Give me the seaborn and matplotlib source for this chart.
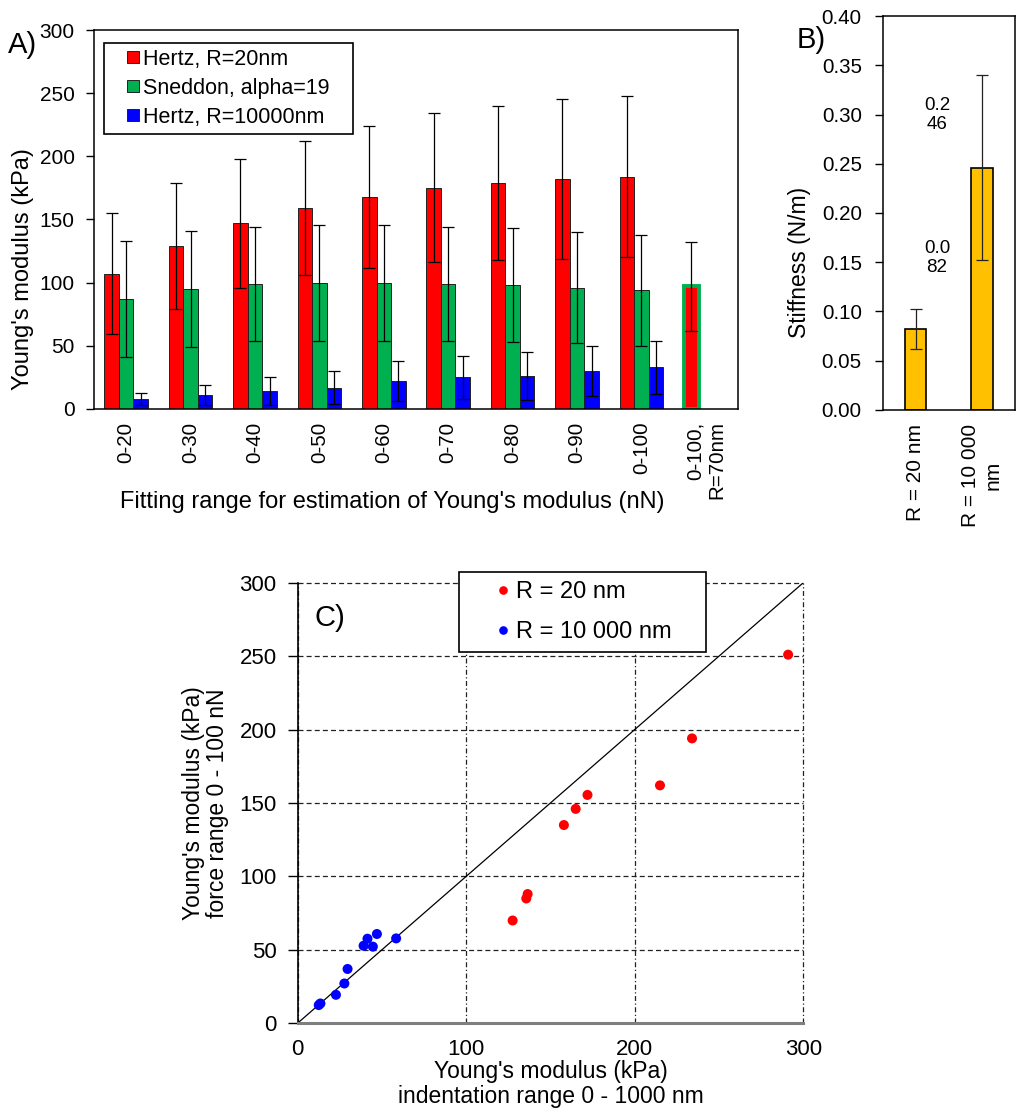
import numpy as np
import pandas as pd
import matplotlib
matplotlib.use("Agg")
import matplotlib.pyplot as plt
from matplotlib.lines import Line2D
import seaborn as sns

# ---------------- data ----------------
ranges = ['0-20', '0-30', '0-40', '0-50', '0-60', '0-70', '0-80', '0-90', '0-100']
extra_range = '0-100,\nR=70nm'
series_names = ['Hertz, R=20nm', 'Sneddon, alpha=19', 'Hertz, R=10000nm']

hertz20 = [107, 129, 147, 159, 168, 175, 179, 182, 184]
hertz20_err = [48, 50, 51, 53, 56, 59, 61, 63, 64]
sneddon = [87, 95, 99, 100, 100, 99, 98, 96, 94]
sneddon_err = [46, 46, 45, 46, 46, 45, 45, 44, 44]
hertz10000 = [8, 11, 14, 17, 22, 25, 26, 30, 33]
hertz10000_err = [5, 8, 11, 13, 16, 17, 19, 20, 21]
hertz70 = [97]
hertz70_err = [35]

stiff_labels = ['R = 20 nm', 'R = 10 000\nnm']
stiffness = [0.082, 0.246]
stiffness_err = [0.020, 0.094]

red_x = [291, 234, 215, 172, 165, 158, 136.5, 135.7, 127.6]
red_y = [251, 194, 162, 155.5, 146, 135, 88, 85, 70]
blue_x = [12.6, 13.6, 22.8, 27.8, 29.7, 39.2, 41.5, 44.7, 47.1, 58.5]
blue_y = [12.4, 13.5, 19.4, 27.1, 37, 52.8, 57.6, 52.2, 60.8, 57.8]
scatter_names = ['R = 20 nm', 'R = 10 000 nm']

# ---------------- style ----------------
sns.set_style('white')
plt.rcParams['font.family'] = ['Liberation Sans', 'DejaVu Sans']
plt.rcParams['axes.linewidth'] = 1.0
for k in ['text.color', 'axes.labelcolor', 'xtick.color', 'ytick.color', 'axes.edgecolor']:
    plt.rcParams[k] = 'black'

W, H = 1024, 1119
fig = plt.figure(figsize=(W / 100, H / 100), dpi=100)


def box(l, t, r, b):
    return [l / W, 1 - b / H, (r - l) / W, (b - t) / H]


# ---------------- panel A ----------------
axA = fig.add_axes(box(94, 30, 738, 409))
rows = []
for name, vals in zip(series_names, [hertz20, sneddon, hertz10000]):
    for c, v in zip(ranges, vals):
        rows.append((c, name, v))
rows.append((extra_range, series_names[0], hertz70[0]))
dfA = pd.DataFrame(rows, columns=['range', 'series', 'value'])
colorsA = ['#FF0000', '#00B050', '#0000FF']
palA = dict(zip(series_names, colorsA))
sns.barplot(data=dfA, x='range', y='value', hue='series', hue_order=series_names,
            order=ranges + [extra_range], palette=palA, width=0.68, errorbar=None,
            edgecolor='#222222', linewidth=0.7, saturation=1, ax=axA, legend=False)

errs = [hertz20_err + hertz70_err, sneddon_err, hertz10000_err]
for cont, err in zip(axA.containers, errs):
    xs = [b.get_x() + b.get_width() / 2 for b in cont]
    ys = [b.get_height() for b in cont]
    axA.errorbar(xs, ys, yerr=err, fmt='none', ecolor='black', elinewidth=0.9,
                 capsize=4.3, capthick=0.9, zorder=5)
last_bar = axA.containers[0][-1]
last_bar.set_edgecolor('#00B050')
last_bar.set_linewidth(2.8)

axA.set_ylim(0, 300)
axA.set_xlim(-0.5, 9.5)
axA.set_yticks(np.arange(0, 301, 50))
axA.tick_params(axis='y', direction='out', length=6, width=1, labelsize=15, pad=8, left=True)
axA.tick_params(axis='x', length=0, labelsize=14.8, pad=9, labelrotation=90)
for lab in axA.get_xticklabels():
    lab.set_multialignment('right')
    lab.set_va('top')
for s in axA.spines.values():
    s.set_color('black')
    s.set_linewidth(1.1)
axA.set_xlabel('')
axA.set_ylabel("Young's modulus (kPa)", fontsize=17)
axA.yaxis.set_label_coords(-0.093, 0.368)
fig.text(392 / W, 1 - 508 / H, 'Fitting range for estimation of Young\'s modulus (nN)',
         fontsize=17, ha='center', va='baseline')
hA = [Line2D([], [], ls='none', marker='s', markersize=8, markerfacecolor=c,
             markeredgecolor='#222222', markeredgewidth=0.7) for c in colorsA]
legA = axA.legend(hA, series_names, loc='upper left',
                  bbox_to_anchor=(104 / W, 1 - 131 / H, 249 / W, 88 / H),
                  bbox_transform=fig.transFigure, mode='expand', fontsize=15.5,
                  frameon=True, fancybox=False, edgecolor='black', framealpha=1,
                  borderpad=0.28, labelspacing=0.37, handlelength=2.09,
                  handletextpad=-0.56, borderaxespad=0)
legA.get_frame().set_linewidth(1.2)
fig.text(8 / W, 1 - 53 / H, 'A)', fontsize=21, ha='left', va='baseline')

# ---------------- panel B ----------------
axB = fig.add_axes(box(882.7, 16.3, 1015, 409.7))
dfB = pd.DataFrame({'radius': stiff_labels, 'stiffness': stiffness})
sns.barplot(data=dfB, x='radius', y='stiffness', color='#FFC000', width=0.32,
            errorbar=None, edgecolor='black', linewidth=1.2, saturation=1, ax=axB)
bxs = [b.get_x() + b.get_width() / 2 for b in axB.patches]
axB.errorbar(bxs, stiffness, yerr=stiffness_err, fmt='none', ecolor='#222222',
             elinewidth=0.9, capsize=4.3, capthick=0.9, zorder=5)
axB.set_ylim(0, 0.40)
axB.set_xlim(-0.5, 1.5)
yb = np.arange(0, 0.401, 0.05)
axB.set_yticks(yb)
axB.set_yticklabels([f'{v:.2f}' for v in yb])
axB.tick_params(axis='y', direction='out', length=6, width=1, labelsize=14.8, pad=9, left=True)
axB.tick_params(axis='x', length=0, labelsize=15, pad=10, labelrotation=90)
for lab in axB.get_xticklabels():
    lab.set_multialignment('center')
    lab.set_va('top')
for s in axB.spines.values():
    s.set_color('black')
    s.set_linewidth(1.1)
axB.set_xlabel('')
axB.set_ylabel('Stiffness (N/m)', fontsize=16.5)
axB.yaxis.set_label_coords(-0.54, 0.375)
txt_pos = {0: 0.154, 1: 0.300}
for i, v in enumerate(stiffness):
    s = f'{v:.3f}'
    axB.text(0.32, txt_pos[i], s[:3] + '\n' + s[3:], fontsize=13.5, ha='center',
             va='center', linespacing=1.15)
fig.text(796.7 / W, 1 - 48.3 / H, 'B)', fontsize=21, ha='left', va='baseline')

# ---------------- panel C ----------------
axC = fig.add_axes(box(297.5, 582.7, 803.3, 1023.3))
dfC = pd.DataFrame({
    'x': red_x + blue_x,
    'y': red_y + blue_y,
    'group': [scatter_names[0]] * len(red_x) + [scatter_names[1]] * len(blue_x),
})
colorsC = ['#FF0000', '#0000FF']
sns.scatterplot(data=dfC, x='x', y='y', hue='group', hue_order=scatter_names,
                palette=dict(zip(scatter_names, colorsC)),
                s=52, edgecolor='none', linewidth=0, ax=axC, zorder=4, legend=False)
axC.axline((0, 0), slope=1, color='black', lw=0.9, zorder=3)
axC.set_xlim(0, 300)
axC.set_ylim(0, 300)
axC.set_xticks([0, 100, 200, 300])
axC.set_yticks(np.arange(0, 301, 50))
axC.set_axisbelow(True)
axC.yaxis.grid(True, linestyle=(0, (4, 2.5)), color='#222222', lw=0.9)
axC.xaxis.grid(True, linestyle=(0, (4, 2, 1, 2)), color='#222222', lw=0.9)
for gl in axC.get_xgridlines() + axC.get_ygridlines():
    gl.set_clip_on(False)
for side in ['top', 'right']:
    axC.spines[side].set_visible(False)
axC.spines['left'].set_color('black')
axC.spines['left'].set_linewidth(1.2)
axC.spines['bottom'].set_color('#7f7f7f')
axC.spines['bottom'].set_linewidth(2.2)
axC.spines['left'].set_zorder(6)
axC.spines['bottom'].set_zorder(6)
axC.tick_params(axis='y', direction='out', length=7, width=1, labelsize=16, pad=8, left=True)
axC.tick_params(axis='x', length=0, labelsize=16, pad=11)
axC.set_xlabel("Young's modulus (kPa)\nindentation range 0 - 1000 nm", fontsize=16.5,
               linespacing=1.1, va='top')
axC.xaxis.set_label_coords(0.5, -0.083)
axC.set_ylabel("Young's modulus (kPa)\nforce range 0 - 100 nN", fontsize=16.5, linespacing=1.05)
axC.yaxis.set_label_coords(-0.135, 0.5)
hC = [Line2D([], [], ls='none', marker='o', markersize=6.2, markerfacecolor=c,
             markeredgecolor='none') for c in colorsC]
legC = axC.legend(hC, scatter_names, loc='upper left',
                  bbox_to_anchor=(459 / W, 1 - 652 / H, 247 / W, 80 / H),
                  bbox_transform=fig.transFigure, mode='expand', fontsize=17,
                  frameon=True, fancybox=False, edgecolor='black', framealpha=1,
                  borderpad=0.38, labelspacing=0.76, handlelength=2.97,
                  handletextpad=-0.93, borderaxespad=0)
legC.get_frame().set_linewidth(1.2)
legC.set_zorder(10)
fig.text(315 / W, 1 - 626 / H, 'C)', fontsize=21, ha='left', va='baseline')

fig.savefig('out.png', dpi=100)
